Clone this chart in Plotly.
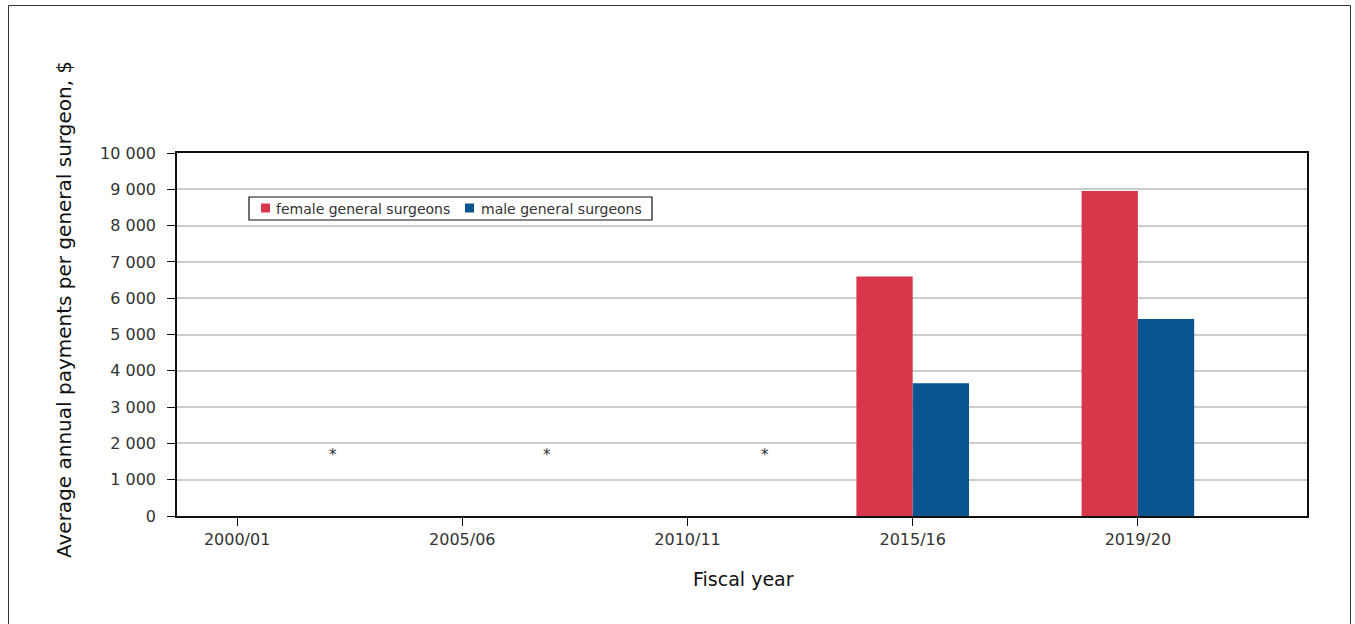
import plotly.graph_objects as go

categories = ["2000/01", "2005/06", "2010/11", "2015/16", "2019/20"]
female = [None, None, None, 6600, 8950]
male = [None, None, None, 3660, 5430]
suppressed_x = [0.427, 1.378, 2.342]
suppressed_y = [1670, 1670, 1670]
series_names = ["female general surgeons", "male general surgeons"]
series_colors = ["#D8364A", "#0A5590"]

FONT = "DejaVu Sans, Verdana, sans-serif"
TXT = "#333333"

# plot area in page pixels
PL, PR, PT, PB = 177, 1307, 153, 516


def px(x):
    return (x - PL) / (PR - PL)


def py(y):
    return (PB - y) / (PB - PT)


fig = go.Figure()
for name, vals, col in zip(series_names, [female, male], series_colors):
    fig.add_trace(go.Bar(x=categories, y=vals, name=name,
                         marker=dict(color=col, line=dict(width=0))))

for xv, yv in zip(suppressed_x, suppressed_y):
    fig.add_annotation(x=xv, y=yv, xref="x", yref="y", text="*", showarrow=False,
                       yanchor="middle", font=dict(family=FONT, size=15, color=TXT))

# axis titles
fig.add_annotation(x=px(63.5), y=py(309.5), xref="paper", yref="paper",
                   xanchor="center", yanchor="middle",
                   text="Average annual payments per general surgeon, $",
                   textangle=-90, showarrow=False,
                   font=dict(family=FONT, size=20, color="#111111"))
fig.add_annotation(x=px(743), y=py(578.5), xref="paper", yref="paper",
                   xanchor="center", yanchor="middle", text="Fiscal year",
                   showarrow=False, font=dict(family=FONT, size=19, color="#111111"))

# outer frame
fig.add_shape(type="rect", xref="paper", yref="paper",
              x0=px(8.5), x1=px(1350.5), y0=py(680), y1=py(5.5),
              line=dict(color="#333333", width=1), layer="below")

# legend (drawn box)
fig.add_shape(type="rect", xref="paper", yref="paper",
              x0=px(249), x1=px(652), y0=py(220), y1=py(197),
              line=dict(color="#111111", width=1.2), fillcolor="white", layer="above")
leg_sq_x = [261, 465]
leg_txt_x = [276, 481]
for name, col, sx, tx in zip(series_names, series_colors, leg_sq_x, leg_txt_x):
    fig.add_shape(type="rect", xref="paper", yref="paper",
                  x0=px(sx), x1=px(sx + 9), y0=py(212.5), y1=py(203.5),
                  line=dict(width=0), fillcolor=col, layer="above")
    fig.add_annotation(x=px(tx), y=py(208.5), xref="paper", yref="paper",
                       xanchor="left", yanchor="middle", text=name, showarrow=False,
                       xshift=-2, font=dict(family=FONT, size=14, color=TXT))

fig.update_layout(
    width=1355, height=624,
    margin=dict(l=PL, r=1355 - PR, t=PT, b=624 - PB, autoexpand=False),
    paper_bgcolor="white", plot_bgcolor="white",
    barmode="group", bargap=0.5, bargroupgap=0,
    separators=". ",
    font=dict(family=FONT, size=16, color=TXT),
    showlegend=False,
    xaxis=dict(range=[-0.267, 4.751], showline=True, linecolor="#111111", linewidth=1.5,
               mirror=True, ticks="outside", ticklen=8, tickcolor="#111111",
               tickfont=dict(family=FONT, size=16, color=TXT),
               showgrid=False, fixedrange=True),
    yaxis=dict(range=[0, 10000], dtick=1000, tickformat=",d",
               showline=True, linecolor="#111111", linewidth=1.5, mirror=True,
               ticks="outside", ticklen=8, tickcolor="#111111", ticklabelstandoff=8,
               tickfont=dict(family=FONT, size=16, color=TXT),
               showgrid=True, gridcolor="#CCCCCC", gridwidth=2,
               zeroline=False, fixedrange=True),
)

fig.write_html("out.html", config={"displayModeBar": False},
               post_script="document.body.style.margin='0';")
